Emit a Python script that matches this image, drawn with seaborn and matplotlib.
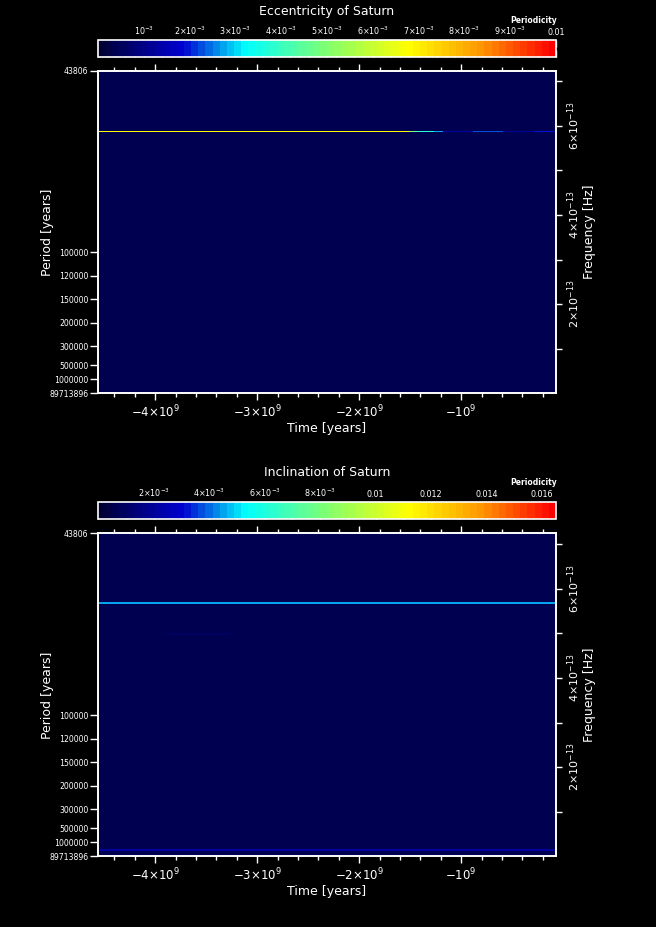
import numpy as np
import matplotlib
matplotlib.use("Agg")
import matplotlib.pyplot as plt
from matplotlib.colors import LinearSegmentedColormap, Normalize
from matplotlib.ticker import MultipleLocator, FixedLocator
import seaborn as sns

# ---- data ----
YEAR_S = 3.15576e7
time_start, time_end = -4.56e9, -0.07e9
period_top, period_bottom = 43806, 89713896
period_ticks = [43806, 100000, 120000, 150000, 200000, 300000, 500000, 1000000, 89713896]

# eccentricity: one strong line whose strength changes with time
ecc_vmax = 0.01
ecc_background = 3.6e-4
ecc_line_period = 53900
ecc_time_edges = [-4.56e9, -1.50e9, -1.42e9, -1.27e9, -1.18e9, -0.88e9, -0.59e9, -0.29e9, -0.07e9]
ecc_line_power = [0.0068, 0.0048, 0.0036, 0.0028, 0.0014, 0.0022, 0.0012, 0.0020]
ecc_cbar_ticks = [0.001, 0.002, 0.003, 0.004, 0.005, 0.006, 0.007, 0.008, 0.009, 0.01]
ecc_cbar_labels = [r"10$^{-3}$"] + [r"%d$\times$10$^{-3}$" % k for k in range(2, 10)] + ["0.01"]

# inclination: two steady lines, a faint streak and a weak low-frequency band
inc_vmax = 0.0165
inc_background = 6.0e-4
inc_line_periods = [55800, 2130000]
inc_line_power = [0.0046, 0.0021]
inc_faint_period = 63600
inc_faint_edges = [-3.92e9, -3.26e9]
inc_faint_power = [0.0010]
inc_tail_power = 7.4e-4
inc_cbar_ticks = [0.002, 0.004, 0.006, 0.008, 0.01, 0.012, 0.014, 0.016]
inc_cbar_labels = [r"%d$\times$10$^{-3}$" % k for k in (2, 4, 6, 8)] + ["0.01", "0.012", "0.014", "0.016"]

xticks = [-4e9, -3e9, -2e9, -1e9]
xlabels = [r"$-$4$\times$10$^{9}$", r"$-$3$\times$10$^{9}$", r"$-$2$\times$10$^{9}$", r"$-$10$^{9}$"]
freq_ticks = [2e-13, 4e-13, 6e-13]
freq_labels = [r"2$\times$10$^{-13}$", r"4$\times$10$^{-13}$", r"6$\times$10$^{-13}$"]

# ---- style ----
sns.set_theme(style="dark", rc={
    "figure.facecolor": "black", "axes.facecolor": "black",
    "axes.edgecolor": "white", "axes.labelcolor": "white",
    "text.color": "white", "xtick.color": "white", "ytick.color": "white",
    "axes.linewidth": 1.2, "axes.grid": False,
})
plt.rcParams["font.family"] = ["DejaVu Sans"]
plt.rcParams["mathtext.fontset"] = "dejavusans"

cmap = LinearSegmentedColormap.from_list("idl_rainbow", [
    (0.0, "#000034"), (0.18, "#0000d2"), (0.32, "#00ffff"), (0.5, "#80ff70"),
    (0.68, "#ffff00"), (0.84, "#ff9800"), (1.0, "#ff0000")], N=64)

f_top = 1.0 / (period_top * YEAR_S)
f_bot = 1.0 / (period_bottom * YEAR_S)
half_w = 1.4e-15  # half thickness of a spectral line in Hz


def freq(p):
    return 1.0 / (p * YEAR_S)


def band(ax, t_edges, f_lo, f_hi, powers, norm):
    return ax.pcolormesh(t_edges, [f_lo, f_hi], np.array([powers]), cmap=cmap, norm=norm,
                         shading="flat", antialiased=False, linewidth=0)


def dress(ax, cax, mesh, title, title_y, per_y, cticks, clabels, cminor):
    ax.set_xlim(time_start, time_end)
    ax.set_ylim(f_bot, f_top)
    ax.set_xticks(xticks)
    ax.set_xticklabels(xlabels, fontsize=8.5)
    ax.xaxis.set_minor_locator(MultipleLocator(2e8))
    ax.tick_params(axis="x", which="both", direction="out", bottom=True, top=True,
                   color="white", pad=2.5)
    ax.tick_params(axis="x", which="major", length=5, width=1)
    ax.tick_params(axis="x", which="minor", length=3, width=1)
    ax.set_xlabel("Time [years]", fontsize=9, labelpad=1)
    ax.set_yticks([freq(p) for p in period_ticks])
    ax.set_yticklabels([str(p) for p in period_ticks], fontsize=5.6)
    ax.tick_params(axis="y", which="both", direction="out", left=True, length=5.5,
                   width=1, color="white", pad=1.5)
    ax.set_ylabel("Period [years]", fontsize=9)
    ax.yaxis.set_label_coords(-0.097, 0.5)
    for s in ax.spines.values():
        s.set_color("white")

    ax2 = ax.twinx()
    ax2.set_ylim(f_bot, f_top)
    ax2.set_yticks(freq_ticks)
    ax2.set_yticklabels(freq_labels, fontsize=8, rotation=90, va="center")
    ax2.yaxis.set_minor_locator(FixedLocator([1e-13, 3e-13, 5e-13, 7e-13]))
    ax2.tick_params(axis="y", which="both", direction="out", right=True, length=4,
                    width=1, color="white", pad=3)
    ax2.set_ylabel("Frequency [Hz]", fontsize=9)
    ax2.yaxis.set_label_coords(1.059, 0.5)
    ax2.grid(False)

    cb = fig.colorbar(mesh, cax=cax, orientation="horizontal")
    cb.outline.set_edgecolor("white")
    cb.outline.set_linewidth(1.2)
    cax.xaxis.set_ticks_position("both")
    cb.set_ticks(cticks)
    cax.set_xticklabels(clabels, fontsize=5.8)
    cax.xaxis.set_minor_locator(MultipleLocator(cminor))
    cax.tick_params(axis="x", which="both", direction="in", top=True, bottom=True,
                    labeltop=True, labelbottom=False, color="white", pad=2)
    cax.tick_params(axis="x", which="major", length=5, width=1)
    cax.tick_params(axis="x", which="minor", length=3, width=0.8)

    fig.text(0.4985, title_y, title, ha="center", va="center", fontsize=9)
    fig.text(0.849, per_y, "Periodicity", ha="right", va="center", fontsize=5.5,
             fontweight="bold")


fig = plt.figure(figsize=(6.56, 9.27), dpi=100)

# eccentricity panel
ax_e = fig.add_axes([0.1494, 0.5757, 0.6982, 0.3480])
cax_e = fig.add_axes([0.1494, 0.9385, 0.6982, 0.0188])
norm_e = Normalize(0, ecc_vmax)
mesh_e = band(ax_e, [time_start, time_end], f_bot, f_top, [ecc_background], norm_e)
fc = freq(ecc_line_period)
band(ax_e, ecc_time_edges, fc - half_w, fc + half_w, ecc_line_power, norm_e)
dress(ax_e, cax_e, mesh_e, "Eccentricity of Saturn", 0.988, 0.9777,
      ecc_cbar_ticks, ecc_cbar_labels, 2e-4)

# inclination panel
ax_i = fig.add_axes([0.1494, 0.0761, 0.6982, 0.3484])
cax_i = fig.add_axes([0.1494, 0.4398, 0.6982, 0.0190])
norm_i = Normalize(0, inc_vmax)
mesh_i = band(ax_i, [time_start, time_end], f_bot, f_top, [inc_background], norm_i)
band(ax_i, [time_start, time_end], f_bot, freq(inc_line_periods[1]) - half_w,
     [inc_tail_power], norm_i)
for p, pw in zip(inc_line_periods, inc_line_power):
    fc = freq(p)
    band(ax_i, [time_start, time_end], fc - half_w, fc + half_w, [pw], norm_i)
fc = freq(inc_faint_period)
band(ax_i, inc_faint_edges, fc - half_w, fc + half_w, inc_faint_power, norm_i)
dress(ax_i, cax_i, mesh_i, "Inclination of Saturn", 0.4898, 0.479,
      inc_cbar_ticks, inc_cbar_labels, 1e-3)

fig.savefig("out.png", dpi=100, facecolor="black")
